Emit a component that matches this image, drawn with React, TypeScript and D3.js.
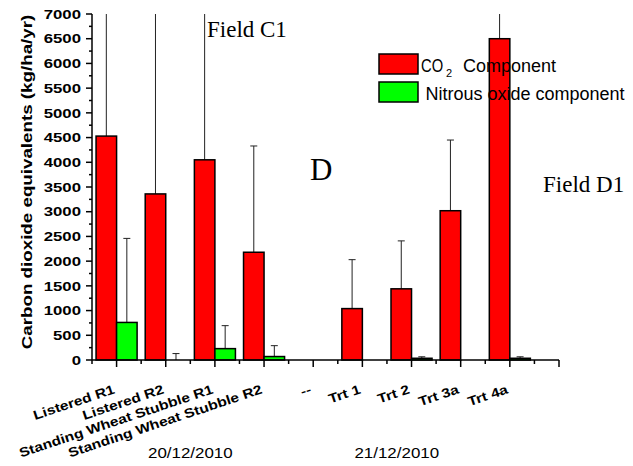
import React from "react";
import * as d3 from "d3";

const categories = [
  "Listered R1",
  "Listered R2",
  "Standing Wheat Stubble R1",
  "Standing Wheat Stubble R2",
  "--",
  "Trt 1",
  "Trt 2",
  "Trt 3a",
  "Trt 4a",
];
const co2Values = [4530, 3360, 4050, 2180, 0, 1040, 1440, 3020, 6500];
const co2Errors = [4200, 4500, 3800, 2150, 0, 990, 970, 1430, 2000];
const n2oValues = [760, 0, 230, 70, 0, 0, 35, 0, 35];
const n2oErrors = [1700, 130, 465, 220, 0, 0, 30, 0, 30];
const yTicks = [0, 500, 1000, 1500, 2000, 2500, 3000, 3500, 4000, 4500, 5000, 5500, 6000, 6500, 7000];
const dateLabels = [
  { text: "20/12/2010", at: 4.0 },
  { text: "21/12/2010", at: 12.4 },
];
const legendItems = ["co2", "n2o"];

const SANS = "'Liberation Sans', Arial, sans-serif";
const SERIF = "'Liberation Serif', 'Times New Roman', serif";

export default function App() {
  const x = d3.scaleLinear().domain([0, 19]).range([92, 559]);
  const y = d3.scaleLinear().domain([0, 7000]).range([360, 14]);
  const half = x(1) - x(0);
  const bw = half * 0.835;
  const center = (i: number) => x(2 * i + 1);
  const minorY = d3.range(250, 7000, 500);
  const xTickIdx = d3.range(0, 20);

  const errBar = (cx: number, v: number, e: number, key: string) => {
    if (e <= 0) return null;
    const top = v + e;
    const yt = y(Math.min(top, 7000));
    return (
      <g key={key} stroke="#222" strokeWidth={1}>
        <line x1={cx} x2={cx} y1={y(v)} y2={yt} />
        {top <= 7000 && <line x1={cx - 3.5} x2={cx + 3.5} y1={yt} y2={yt} />}
      </g>
    );
  };

  return (
    <svg width={633} height={466} style={{ position: "absolute", left: 0, top: 0, background: "#fff" }}>
      {categories.map((c, i) => errBar(center(i) - bw / 2, co2Values[i], co2Errors[i], "ec" + i))}
      {categories.map((c, i) => errBar(center(i) + bw / 2, n2oValues[i], n2oErrors[i], "en" + i))}
      {categories.map((c, i) =>
        co2Values[i] > 0 ? (
          <rect key={"bc" + i} x={center(i) - bw} y={y(co2Values[i])} width={bw} height={y(0) - y(co2Values[i])}
            fill="#ff0000" stroke="#000" strokeWidth={1.5} />
        ) : null
      )}
      {categories.map((c, i) =>
        n2oValues[i] > 0 ? (
          <rect key={"bn" + i} x={center(i)} y={y(n2oValues[i])} width={bw} height={y(0) - y(n2oValues[i])}
            fill="#00ff00" stroke="#000" strokeWidth={1.5} />
        ) : null
      )}
      <g stroke="#000" strokeWidth={1.5}>
        <line x1={x(0)} x2={x(0)} y1={y(7000)} y2={y(0)} />
        {yTicks.map((t) => (
          <line key={"yt" + t} x1={x(0) - 6} x2={x(0)} y1={y(t)} y2={y(t)} />
        ))}
        {minorY.map((t) => (
          <line key={"ym" + t} x1={x(0) - 3} x2={x(0)} y1={y(t)} y2={y(t)} />
        ))}
        <line x1={x(0)} x2={x(19)} y1={y(0)} y2={y(0)} />
        {xTickIdx.map((k) => (
          <line key={"xt" + k} x1={x(k)} x2={x(k)} y1={y(0)} y2={y(0) + (k % 2 === 1 ? 7 : 4)} />
        ))}
      </g>
      {yTicks.map((t) => (
        <text key={"yl" + t} transform={`translate(81,${y(t) + 4.7}) scale(1.29,1)`} textAnchor="end"
          fontFamily={SANS} fontWeight="bold" fontSize={13} fill="#000">
          {t}
        </text>
      ))}
      <text transform="translate(32,182) rotate(-90) scale(1.34,1)" textAnchor="middle"
        fontFamily={SANS} fontWeight="bold" fontSize={14} fill="#000">
        Carbon dioxide equivalents (kg/ha/yr)
      </text>
      {categories.map((c, i) => (
        <text key={"xl" + i} transform={`translate(${center(i) - 1},393) rotate(-18.5) scale(1.2,1)`}
          textAnchor="end" fontFamily={SANS} fontWeight="bold" fontSize={13} fill="#000">
          {c}
        </text>
      ))}
      {dateLabels.map((d) => (
        <text key={d.text} transform={`translate(${x(d.at)},458) scale(1.21,1)`} textAnchor="middle"
          fontFamily={SANS} fontSize={14} fill="#000">
          {d.text}
        </text>
      ))}
      <text x={207} y={36.5} fontFamily={SERIF} fontSize={23} fill="#000">Field C1</text>
      <text x={310} y={180} fontFamily={SERIF} fontSize={31} fill="#000">D</text>
      <text x={543} y={192} fontFamily={SERIF} fontSize={23} fill="#000">Field D1</text>
      {legendItems.map((k, j) => (
        <rect key={k} x={379} y={54 + j * 28} width={39} height={20}
          fill={k === "co2" ? "#ff0000" : "#00ff00"} stroke="#000" strokeWidth={1.5} />
      ))}
      <text transform="translate(421,71.5) scale(0.82,1)" fontFamily={SANS} fontSize={18} fill="#000">CO</text>
      <text x={446} y={77} fontFamily={SANS} fontSize={11} fill="#000">2</text>
      <text x={463} y={71.5} fontFamily={SANS} fontSize={18} fill="#000">Component</text>
      <text x={425.5} y={99.5} fontFamily={SANS} fontSize={18} fill="#000">Nitrous oxide component</text>
    </svg>
  );
}
